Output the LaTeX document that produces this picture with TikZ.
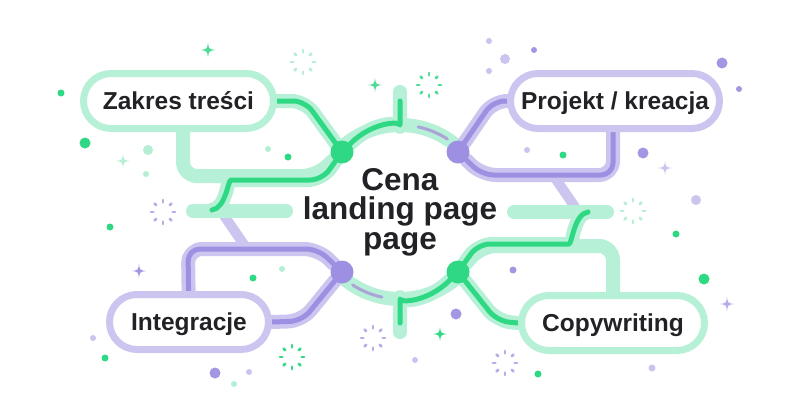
\documentclass[tikz,border=0pt]{standalone}
\usepackage{fontspec}
\setmainfont{Liberation Sans}
\usetikzlibrary{calc}
\pgfdeclarelayer{deco}\pgfdeclarelayer{bands}\pgfdeclarelayer{lines}
\pgfsetlayers{deco,bands,lines,main}
\definecolor{lg}{HTML}{B6F0D6}
\definecolor{dg}{HTML}{2FD984}
\definecolor{lp}{HTML}{CCC5F0}
\definecolor{dp}{HTML}{9D90E2}
\definecolor{tp}{HTML}{ABA4D8}
\definecolor{txt}{HTML}{222226}
\definecolor{lgd}{HTML}{B4EFD3}
\definecolor{lpd}{HTML}{CBC4EF}
\definecolor{pd}{HTML}{A397E4}
\definecolor{mg}{HTML}{4EDC97}
\newcommand\burst[3]{\foreach \a in {0,45,...,315}{\draw[#3, line width=2.6pt, line cap=round] (#1,#2) ++(\a:9.6) -- ++(\a:2.5);}}
\newcommand\sparkle[4]{\fill[#4, shift={(#1,#2)}, scale=#3] (0,-1) .. controls (0.12,-0.12) .. (1,0) .. controls (0.12,0.12) .. (0,1) .. controls (-0.12,0.12) .. (-1,0) .. controls (-0.12,-0.12) .. cycle;}
\newcommand\spot[4]{\fill[#4] (#1,#2) circle[radius=#3];}
\begin{document}
\begin{tikzpicture}[x=1pt,y=-1pt,
  lgband/.style={draw=lg, line width=14pt, line cap=round, line join=round, rounded corners=14pt},
  lpband/.style={draw=lp, line width=14pt, line cap=round, line join=round, rounded corners=14pt},
  gline/.style={draw=dg, line width=5pt, line cap=round, line join=round, rounded corners=12pt},
  pline/.style={draw=dp, line width=5pt, line cap=round, line join=round, rounded corners=12pt},
  tpline/.style={draw=tp, line width=3pt, line cap=round},
  gdot/.style={circle, fill=dg, minimum size=23pt, inner sep=0pt},
  pdot/.style={circle, fill=dp, minimum size=23pt, inner sep=0pt},
  pill/.style={fill=white, line width=7pt, rounded corners=27.5pt, minimum height=55pt, inner sep=0pt,
    font=\fontsize{24.5}{29}\selectfont\bfseries, text=txt, text height=17.5pt, text depth=0pt},
  gpill/.style={pill, draw=lg},
  ppill/.style={pill, draw=lp}]
\useasboundingbox (0,0) rectangle (800,420);
\begin{pgfonlayer}{deco}
\fill[white] (0,0) rectangle (800,420);
% dots
\spot{61}{93}{3.5}{dg}
\spot{85}{143}{5.5}{dg}
\spot{148}{150}{5}{lgd}
\spot{146}{174}{3}{lgd}
\spot{268}{149}{3}{lgd}
\spot{288}{157}{3.5}{dg}
\spot{489}{41}{3}{lpd}
\spot{534}{50}{3}{pd}
\spot{505}{59}{5}{lpd}
\spot{489}{71}{3}{lpd}
\spot{722}{63}{5.5}{pd}
\spot{739}{89}{3}{pd}
\spot{527}{150}{3}{lpd}
\spot{563}{155}{3.5}{dg}
\spot{643}{153}{5.5}{pd}
\spot{696}{200}{5}{lpd}
\spot{110}{227}{3.5}{dg}
\spot{253}{278}{3.5}{dg}
\spot{282}{269}{3}{lgd}
\spot{93}{338}{3}{lpd}
\spot{105}{358}{3.5}{dg}
\spot{215}{373}{5.5}{pd}
\spot{249}{372}{3}{lpd}
\spot{234}{384}{3}{lgd}
\spot{676}{234}{3.5}{dg}
\spot{513}{270}{3.5}{pd}
\spot{704}{279}{5.5}{dg}
\spot{456}{314}{5.5}{pd}
\spot{415}{360}{3}{lpd}
\spot{538}{374}{3.5}{dg}
\spot{652}{368}{3.5}{lpd}
% sparkles
\sparkle{208}{50}{7.5}{mg}
\sparkle{375}{85}{7}{mg}
\sparkle{123}{161}{7}{lgd}
\sparkle{139}{271}{7}{pd}
\sparkle{665}{168}{7}{lpd}
\sparkle{727}{304}{7}{pd!80}
\sparkle{440}{334}{7}{dg}
% bursts
\burst{303}{62}{lgd}
\burst{429}{85}{mg}
\burst{163}{212}{pd!80}
\burst{633}{211}{lgd}
\burst{292}{357}{dg}
\burst{373}{338}{pd!80}
\burst{505}{363}{pd!80}
\end{pgfonlayer}

% junction dots
\node[gdot] (g1) at (342,152) {};
\node[pdot] (p1) at (458,152) {};
\node[pdot] (p2) at (342,272) {};
\node[gdot] (g2) at (458,272) {};
% pills
\node[gpill, minimum width=190pt] (zak) at (178.5,101) {Zakres treści};
\node[ppill, minimum width=209pt] (proj) at (615,101) {Projekt / kreacja};
\node[ppill, minimum width=159pt] (int) at (189,322) {Integracje};
\node[gpill, minimum width=183pt] (copy) at (613,323) {Copywriting};
% title
\node[font=\fontsize{31.5}{29.5}\selectfont\bfseries, text=txt, align=center, inner sep=0pt] (title) at (400,212) {Cena\\landing page\\page};

\begin{pgfonlayer}{bands}
% side branches into bars
\draw[lpband, line width=10pt] (553,175) -- (577,210);
\draw[lpband, line width=10pt] (247,249) -- (223,214);
% bars
\draw[lgband] (193,211) -- (286,211);
\draw[lgband] (514,212) -- (607,212);
% rings
\draw[lgband] (400,212) ++(226:87) arc[start angle=226, end angle=314, radius=87];
\draw[lgband] (400,212) ++(46:87) arc[start angle=46, end angle=134, radius=87];
\draw[lgband] (400,92) -- (400,122);
\draw[lgband] (400,302) -- (400,332);
% top-left green
\draw[lgband] ($(zak.center)+(4.5,0)$) -- (183,176) -- (316,176) -- (g1);
\draw[lgband] (zak.east) -- (305,101) -- (g1);
\draw[lgband] (g1) -- (322,180) -- (243,180) .. controls (228,180) and (226,208) .. (212,210);
\draw[lgband] (400,106) -- (400,113) .. controls (400,121) and (372,122) .. (g1);
% bottom-right green
\draw[lgband] (copy.center) -- (613,246) -- (482,246) -- (g2);
\draw[lgband] (copy.west) -- (497,321) -- (g2);
\draw[lgband] (g2) -- (478,244) -- (557,244) .. controls (572,244) and (574,214) .. (588,212);
\draw[lgband] (g2) .. controls (428,302) and (400,303) .. (400,311) -- (400,318);
% top-right purple
\draw[lpband] (proj.west) -- (493,101) -- (p1);
\draw[lpband] (p1) -- (482,175) -- (613,175) -- ($(proj.center)+(-2,0)$);
% bottom-left purple
\draw[lpband] (int.east) -- (302,321) -- (p2);
\draw[lpband] (p2) -- (318,249) -- (188,249) -- (int.center);
\end{pgfonlayer}

\begin{pgfonlayer}{lines}
\draw[tpline] (400,212) ++(282:87) arc[start angle=282, end angle=303, radius=87];
\draw[tpline] (400,212) ++(102:87) arc[start angle=102, end angle=123, radius=87];
\draw[gline] (zak.east) -- (305,101) -- (g1);
\draw[gline] (g1) -- (322,180) -- (243,180) .. controls (228,180) and (226,208) .. (212,210);
\draw[gline] (400,106) -- (400,113) .. controls (400,121) and (372,122) .. (g1);
\draw[gline] (copy.west) -- (497,321) -- (g2);
\draw[gline] (g2) -- (478,244) -- (557,244) .. controls (572,244) and (574,214) .. (588,212);
\draw[gline] (g2) .. controls (428,302) and (400,303) .. (400,311) -- (400,318);
\draw[pline] (proj.west) -- (493,101) -- (p1);
\draw[pline] (p1) -- (482,175) -- (613,175) -- ($(proj.center)+(-2,0)$);
\draw[pline] (int.east) -- (302,321) -- (p2);
\draw[pline] (p2) -- (318,249) -- (188,249) -- (int.center);
\end{pgfonlayer}
\end{tikzpicture}
\end{document}
